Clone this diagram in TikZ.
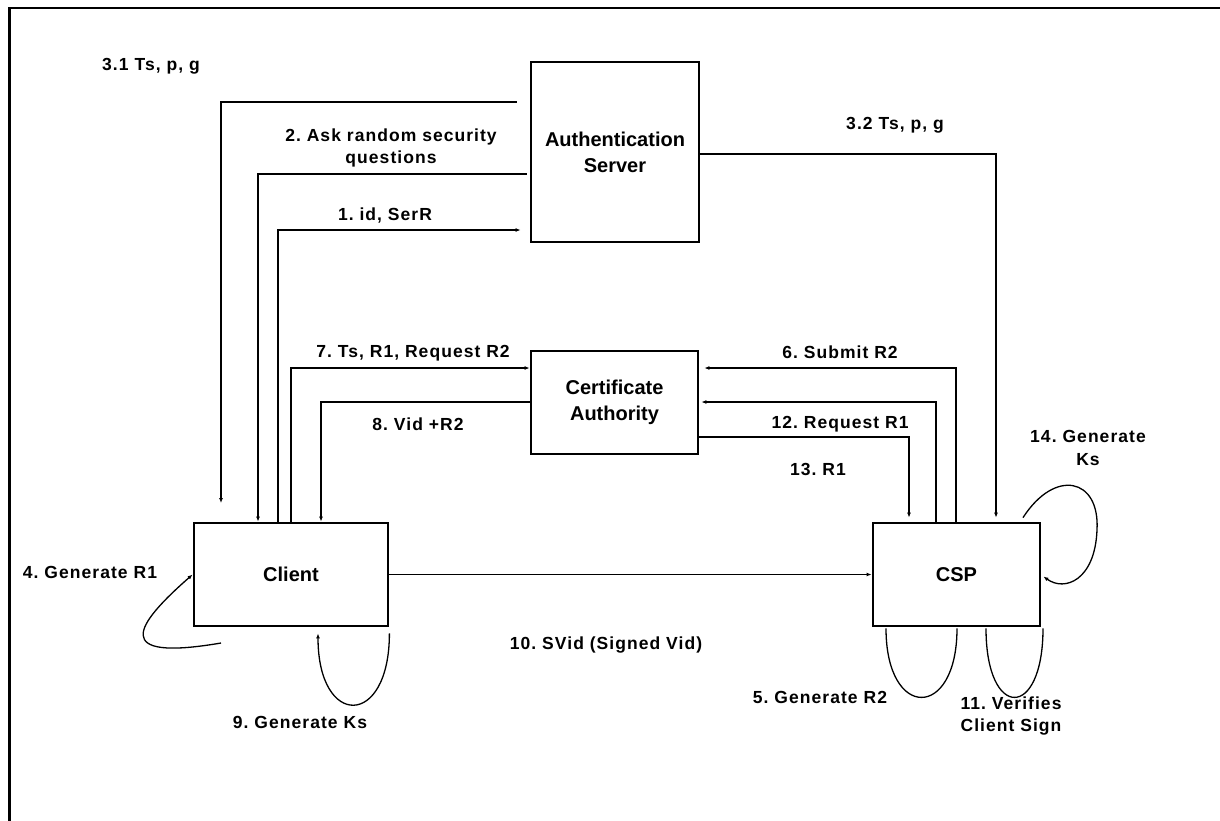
\documentclass[tikz,border=0pt]{standalone}
\usepackage{fontspec}
\setmainfont{Liberation Sans}
\newfontfamily\lblfont[LetterSpace=6]{Liberation Sans}
\usetikzlibrary{arrows.meta}
\frenchspacing
\begin{document}
\frenchspacing
\begin{tikzpicture}[x=1pt,y=-1pt,
  box/.style={draw, line width=2.8pt, font=\fontsize{20}{26}\selectfont\bfseries, align=center, inner sep=0pt},
  conn/.style={line width=1.3pt},
  arr/.style={conn, -{Latex[length=5pt,width=4pt]}},
  lbl/.style={font=\lblfont\fontsize{17.5}{22.5}\selectfont\bfseries, align=center, inner sep=0pt}]
\useasboundingbox (0,0) rectangle (1220,820);
% frame
\draw[line width=2.8pt] (9.5,822) -- (9.5,8) -- (1222,8);
% nodes
\node[box, minimum width=168pt, minimum height=180pt] (as) at (615,152) {Authentication\\Server};
\node[box, minimum width=167pt, minimum height=103pt] (ca) at (614.5,402.5) {Certificate\\Authority};
\node[box, minimum width=194pt, minimum height=103pt] (cl) at (291,574.5) {Client};
\node[box, minimum width=167pt, minimum height=103pt] (csp) at (956.5,574.5) {CSP};
% free ends
\coordinate (e31) at (221,503);
\coordinate (l4s) at (221,643);
% connectors
\draw[arr] ([xshift=-13pt]as.west |- 0,102) -| (e31);
\draw[arr] ([xshift=-3pt]as.west |- 0,174) -| (258,0 |- cl.north);
\draw[arr] (278,0 |- cl.north) |- ([xshift=-9pt]as.west |- 0,230);
\draw[arr] (291,0 |- cl.north) |- (ca.west |- 0,368);
\draw[arr] (ca.west |- 0,402) -| (321,0 |- cl.north);
\draw[arr] (as.east |- 0,154) -| ([yshift=4pt]996,0 |- csp.north);
\draw[arr] (956,0 |- csp.north) |- ([xshift=5pt]ca.east |- 0,368);
\draw[arr] (936,0 |- csp.north) |- ([xshift=2pt]ca.east |- 0,402);
\draw[arr] (ca.east |- 0,437) -| ([yshift=4pt]909,0 |- csp.north);
\draw[arr] (cl.east) -- (csp.west);
% loops
\draw[arr] (l4s) .. controls (110,662) and (135,625) .. (cl.west);
\draw[arr] ([yshift=-6pt]cl.south east) .. controls +(0,95) and +(0,95) .. ([yshift=-6pt]318,0 |- cl.south);
\draw[conn] ([yshift=-1pt]886,0 |- csp.south) .. controls +(0,92) and +(0,92) .. ([yshift=-1pt]957,0 |- csp.south);
\draw[conn] ([yshift=-1pt]986,0 |- csp.south) .. controls +(0,92) and +(0,92) .. ([yshift=-1pt]1043,0 |- csp.south);
\draw[arr] ([yshift=4pt]1023,0 |- csp.north) .. controls (1055,468) and (1100,478) .. (1097,530) .. controls (1095,580) and (1065,592) .. ([xshift=2pt,yshift=-2pt]csp.east);
% labels
\node[lbl] (t31) at (151,66) {3.1 Ts, p, g};
\node[lbl] (t2) at (391,148) {2. Ask random security\\questions};
\node[lbl] (t1) at (385,216) {1. id, SerR};
\node[lbl] (t32) at (895,125) {3.2 Ts, p, g};
\node[lbl] (t7) at (413,353) {7. Ts, R1, Request R2};
\node[lbl] (t8) at (418,424) {8. Vid +R2};
\node[lbl] (t6) at (840,352) {6. Submit R2};
\node[lbl] (t12) at (840,424) {12. Request R1};
\node[lbl] (t13) at (818,469) {13. R1};
\node[lbl] (t14) at (1088,448) {14. Generate\\Ks};
\node[lbl] (t4) at (90,572) {4. Generate R1};
\node[lbl] (t10) at (606,645) {10. SVid (Signed Vid)};
\node[lbl] (t9) at (300,722) {9. Generate Ks};
\node[lbl] (t5) at (820,697) {5. Generate R2};
\node[lbl] (t11) at (1011,716) {11. Verifies\\Client Sign};
\end{tikzpicture}
\end{document}
